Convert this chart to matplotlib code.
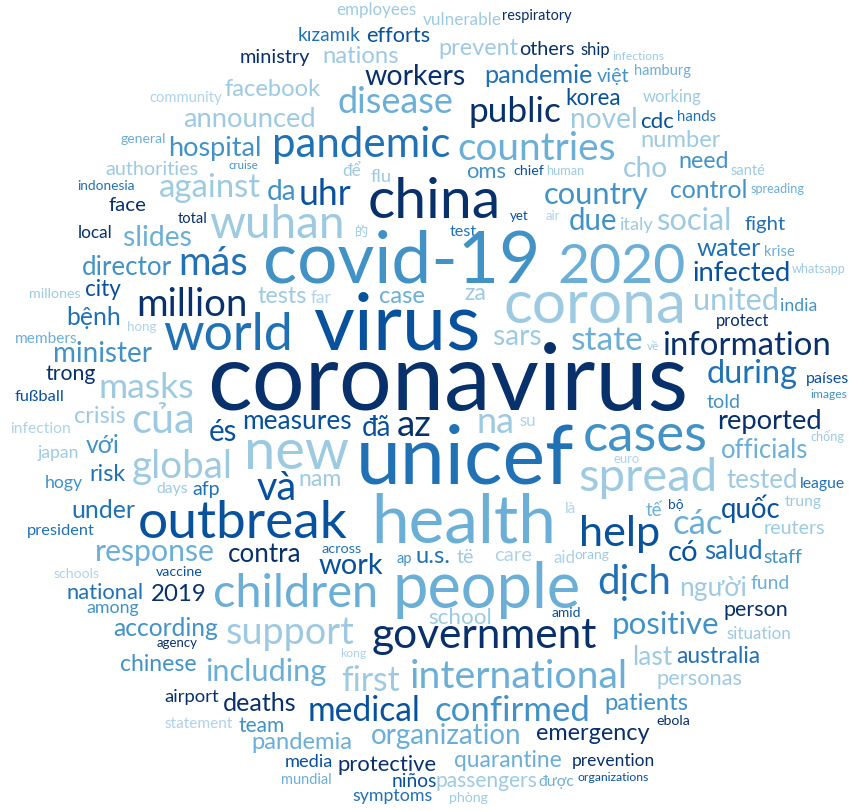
import matplotlib
matplotlib.use("Agg")
import matplotlib.pyplot as plt

# word cloud data: words in drawing order
words = [
    "employees", "vulnerable", "respiratory", "kızamık", "efforts", "ministry",
    "nations", "prevent", "others", "ship", "infections", "facebook", "community",
    "workers", "pandemie", "việt", "hamburg", "announced", "disease", "public",
    "korea", "working", "novel", "cdc", "hands", "general", "hospital", "pandemic",
    "countries", "number", "authorities", "cruise", "để", "flu", "oms", "chief",
    "human", "cho", "need", "santé", "indonesia", "against", "da", "uhr", "china",
    "country", "control", "spreading", "face", "total", "wuhan", "yet", "air",
    "due", "italy", "social", "fight", "local", "的", "test", "slides", "water",
    "krise", "director", "más", "covid-19", "2020", "infected", "whatsapp",
    "millones", "city", "tests", "far", ".", "case", "za", "united", "india",
    "million", "corona", "protect", "bệnh", "hong", "members", "world", "virus",
    "sars", ".", "state", "về", "information", "minister", "trong", "during",
    "países", "masks", "fußball", "images", "coronavirus", "told", "crisis",
    "measures", "reported", "infection", "của", "đã", "az", ".", "na", "su", "és",
    "chống", "cases", "với", "officials", "japan", "euro", "new", "global", "risk",
    "unicef", "nam", "hogy", "tested", "league", "spread", "days", "afp", "và",
    "trung", "bộ", "là", "tế", "under", "quốc", "các", "reuters", "president",
    "outbreak", "health", "help", "across", "orang", "salud", "response", "contra",
    "ap", "u.s.", "të", "care", "aid", "có", "staff", "work", "schools", "vaccine",
    "fund", "dịch", "người", "national", "2019", "children", "people", "among",
    "person", "amid", "school", "positive", "according", "situation", "support",
    "agency", "government", "kong", "last", "australia", "chinese", "including",
    "personas", "international", "first", "airport", "patients", "deaths",
    "medical", "confirmed", "ebola", "statement", "team", "emergency",
    "organization", "pandemia", "prevention", "media", "quarantine", "protective",
    "organizations", "mundial", "niños", "passengers", "được", "symptoms", "phòng",
]

# layout: (left px, baseline px, ink width px, shade)
layout = [
    (338, 15, 76, 5), (425, 25, 75, 5), (504, 20, 66, 0), (300, 41, 59, 2),
    (368, 42, 60, 1), (241, 63, 67, 0),
    (324, 63, 73, 5), (440, 55, 77, 5), (521, 55, 52, 0), (582, 55, 27, 0),
    (614, 60, 48, 5), (226, 96, 94, 5), (151, 102, 69, 6),
    (366, 85, 99, 0), (485, 83, 107, 2), (598, 82, 30, 3), (636, 75, 53, 4),
    (183, 127, 133, 5), (338, 113, 115, 4), (470, 122, 90, 0),
    (567, 105, 52, 1), (645, 102, 55, 5), (572, 128, 64, 5), (642, 128, 31, 1),
    (679, 121, 36, 2), (122, 143, 42, 4), (169, 156, 91, 3), (272, 157, 178, 2),
    (458, 160, 158, 4), (642, 147, 77, 5), (106, 175, 91, 5), (230, 169, 27, 3),
    (343, 176, 17, 5), (372, 182, 19, 5), (468, 178, 37, 3), (515, 175, 28, 1),
    (548, 175, 35, 5), (624, 177, 42, 5), (680, 168, 47, 3), (732, 175, 32, 5),
    (79, 190, 54, 2), (160, 197, 100, 5), (268, 200, 27, 3), (301, 205, 49, 1),
    (368, 218, 133, 0),
    (545, 204, 103, 3), (672, 198, 74, 3), (753, 193, 50, 4), (110, 211, 35, 0),
    (179, 223, 27, 0), (210, 238, 135, 5), (511, 220, 17, 1), (546, 220, 13, 6),
    (571, 230, 45, 3), (621, 230, 31, 5), (659, 230, 72, 5), (746, 230, 38, 2),
    (79, 238, 32, 0), (356, 236, 12, 5), (451, 236, 25, 2), (125, 246, 65, 4),
    (698, 256, 61, 2),
    (765, 256, 28, 4), (83, 275, 87, 3), (180, 275, 66, 2), (263, 283, 277, 3),
    (558, 283, 128, 4), (694, 281, 96, 1), (794, 273, 50, 5),
    (31, 298, 48, 5), (86, 296, 33, 1), (259, 303, 46, 5), (312, 303, 19, 6),
    (357, 301, 8, 1), (380, 303, 43, 4), (465, 300, 20, 5), (695, 310, 83, 5),
    (782, 311, 34, 3),
    (137, 316, 110, 0), (503, 323, 183, 5), (718, 326, 50, 0), (68, 325, 51, 2),
    (128, 331, 27, 6), (17, 343, 59, 4), (163, 350, 130, 2), (313, 350, 167, 1),
    (495, 345, 45, 5), (546, 351, 12, 0), (573, 350, 69, 4), (648, 350, 11, 5),
    (663, 355, 168, 0), (55, 362, 96, 3), (47, 380, 47, 0), (708, 383, 88, 2),
    (808, 383, 40, 1), (100, 398, 93, 5), (17, 401, 46, 1), (812, 398, 34, 3),
    (207, 410, 481, 0), (708, 408, 31, 3), (76, 423, 48, 5),
    (243, 429, 108, 1), (718, 429, 103, 0), (12, 433, 57, 6), (133, 433, 60, 5),
    (363, 436, 27, 1), (398, 436, 32, 0), (450, 434, 7, 2), (478, 433, 35, 5),
    (520, 426, 15, 6), (210, 441, 26, 1),
    (812, 441, 31, 5), (583, 451, 125, 3), (87, 453, 31, 3), (723, 458, 84, 4),
    (39, 458, 38, 5), (615, 463, 24, 6), (245, 469, 103, 5), (133, 478, 99, 5),
    (91, 481, 33, 2),
    (356, 484, 218, 2), (300, 486, 40, 5), (46, 488, 35, 3), (728, 488, 68, 5),
    (801, 488, 42, 2), (579, 491, 139, 5), (158, 493, 29, 5), (194, 495, 25, 2),
    (258, 500, 37, 1),
    (786, 506, 34, 5), (669, 509, 14, 1), (566, 513, 10, 6), (646, 516, 15, 4),
    (73, 518, 60, 2), (723, 518, 56, 1), (674, 534, 47, 4), (765, 534, 58, 5),
    (29, 535, 64, 2),
    (138, 538, 210, 1), (371, 543, 185, 4), (581, 546, 78, 1), (323, 553, 37, 2),
    (576, 559, 32, 5), (706, 559, 55, 2), (95, 561, 120, 4), (230, 562, 70, 0),
    (397, 563, 14, 3), (417, 563, 32, 2), (457, 563, 16, 5), (496, 561, 35, 6),
    (555, 563, 20, 6), (669, 561, 28, 1), (765, 563, 36, 3), (320, 574, 61, 1),
    (55, 578, 43, 6), (158, 576, 43, 1),
    (752, 589, 36, 4), (599, 594, 70, 2), (681, 596, 64, 5), (68, 599, 74, 2),
    (153, 601, 52, 0), (213, 607, 165, 4), (393, 608, 188, 4), (88, 613, 49, 3),
    (725, 616, 61, 0), (553, 617, 27, 1), (430, 624, 60, 5), (613, 634, 106, 3),
    (114, 636, 103, 3), (728, 639, 61, 5), (226, 644, 129, 5),
    (158, 647, 38, 0), (371, 648, 226, 0), (341, 657, 24, 6), (634, 665, 37, 5),
    (678, 663, 81, 2), (122, 671, 73, 3), (205, 681, 121, 4),
    (658, 685, 83, 5), (410, 688, 218, 4), (343, 691, 55, 5), (166, 702, 51, 0),
    (606, 710, 81, 3), (225, 711, 70, 0),
    (308, 721, 112, 1), (435, 721, 155, 3), (658, 725, 31, 0), (166, 728, 65, 6),
    (240, 732, 43, 3), (536, 740, 113, 0),
    (371, 744, 150, 4), (252, 749, 99, 4), (573, 766, 80, 0), (286, 767, 45, 1),
    (455, 767, 106, 4), (339, 771, 97, 0),
    (579, 781, 68, 1), (283, 784, 47, 4), (393, 787, 42, 1), (436, 787, 100, 5),
    (540, 786, 33, 4), (354, 801, 77, 2), (450, 802, 36, 5),
]

shades = ["#08306b", "#08519c", "#2171b5", "#4292c6", "#6baed6", "#9ecae1", "#b0d2e8"]
fams = ["Lato", "Noto Sans", "Noto Sans CJK SC", "DejaVu Sans"]

fig = plt.figure(figsize=(8.49, 8.12), dpi=100)
ax = fig.add_axes([0, 0, 1, 1])
ax.set_xlim(0, 849)
ax.set_ylim(812, 0)
ax.axis("off")
renderer = fig.canvas.get_renderer()

for word, (x, base, w, s) in zip(words, layout):
    t = ax.text(x + w / 2, base, word, color=shades[s], family=fams,
                ha="center", va="baseline", fontsize=40)
    # scale the font so the word is about as wide as in the reference,
    # small words a bit bigger since Lato is wider than the original face
    ext = t.get_window_extent(renderer)
    boost = 1 + 0.12 * max(0, 1 - w / 120)
    t.set_fontsize(40 * w / ext.width * boost)

fig.savefig("out.png", dpi=100, facecolor="white")
